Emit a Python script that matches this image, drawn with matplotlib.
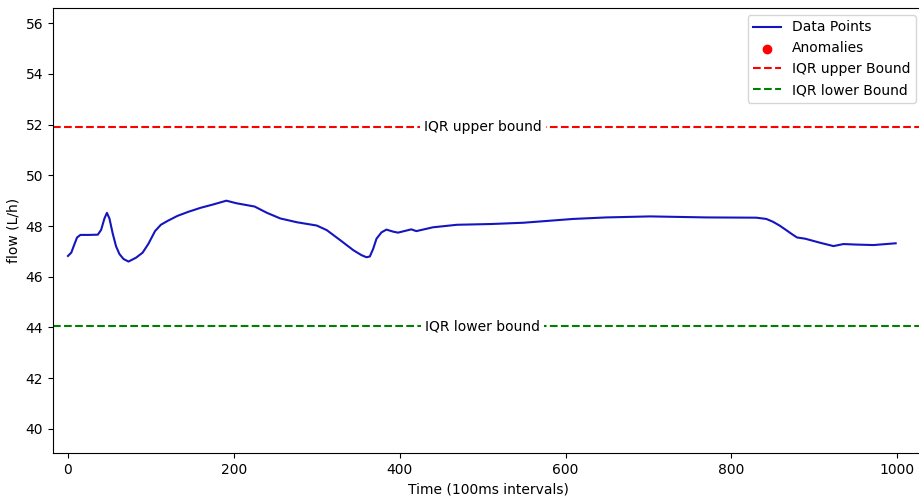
import matplotlib.pyplot as plt

# flow readings (time index, flow in L/h)
time_idx = [0, 4, 8, 11, 15, 25, 36, 40, 44, 47, 50, 54, 58, 62, 67, 73,
            82, 90, 97, 105, 112, 120, 132, 145, 160, 175, 191, 203, 225,
            240, 256, 276, 300, 312, 328, 344, 354, 360, 364, 368, 372, 378,
            384, 392, 398, 414, 420, 440, 469, 510, 549, 609, 649, 702, 770,
            830, 842, 850, 858, 866, 873, 879, 889, 907, 923, 935, 950, 971,
            998]
flow = [46.82, 46.95, 47.3, 47.55, 47.65, 47.65, 47.66, 47.85, 48.3, 48.52,
        48.3, 47.7, 47.2, 46.9, 46.7, 46.6, 46.75, 46.95, 47.3, 47.8, 48.05,
        48.2, 48.4, 48.56, 48.72, 48.85, 49.0, 48.9, 48.77, 48.52, 48.3,
        48.15, 48.02, 47.84, 47.45, 47.05, 46.85, 46.77, 46.8, 47.1, 47.5,
        47.75, 47.86, 47.78, 47.74, 47.87, 47.8, 47.95, 48.05, 48.08, 48.13,
        48.28, 48.34, 48.38, 48.34, 48.33, 48.28, 48.17, 48.02, 47.84,
        47.68, 47.55, 47.5, 47.34, 47.21, 47.29, 47.27, 47.25, 47.32]

anomaly_x = []
anomaly_y = []

upper_bound = 51.92
lower_bound = 44.05

fig = plt.figure(figsize=(9.19, 4.97), dpi=100)
ax = fig.add_axes([0.0577, 0.0885, 0.9467, 0.8955])

ax.plot(time_idx, flow, color='#1515c0', linewidth=1.5, label='Data Points')
ax.scatter(anomaly_x, anomaly_y, color='red', label='Anomalies')
ax.axhline(upper_bound, color='red', linestyle='--', label='IQR upper Bound')
ax.axhline(lower_bound, color='green', linestyle='--', label='IQR lower Bound')

# inline labels on the bound lines
ax.text(500, upper_bound, 'IQR upper bound', ha='center', va='center',
        bbox=dict(facecolor='white', edgecolor='none', pad=3))
ax.text(500, lower_bound, 'IQR lower bound', ha='center', va='center',
        bbox=dict(facecolor='white', edgecolor='none', pad=3))

ax.set_xlim(-18, 1031)
ax.set_ylim(39.05, 56.6)
ax.set_yticks([40, 42, 44, 46, 48, 50, 52, 54, 56])
ax.spines['right'].set_visible(False)
ax.set_xlabel('Time (100ms intervals)')
ax.set_ylabel('flow (L/h)')
ax.legend(loc='upper right')

plt.savefig('out.png', dpi=100)
plt.close()
